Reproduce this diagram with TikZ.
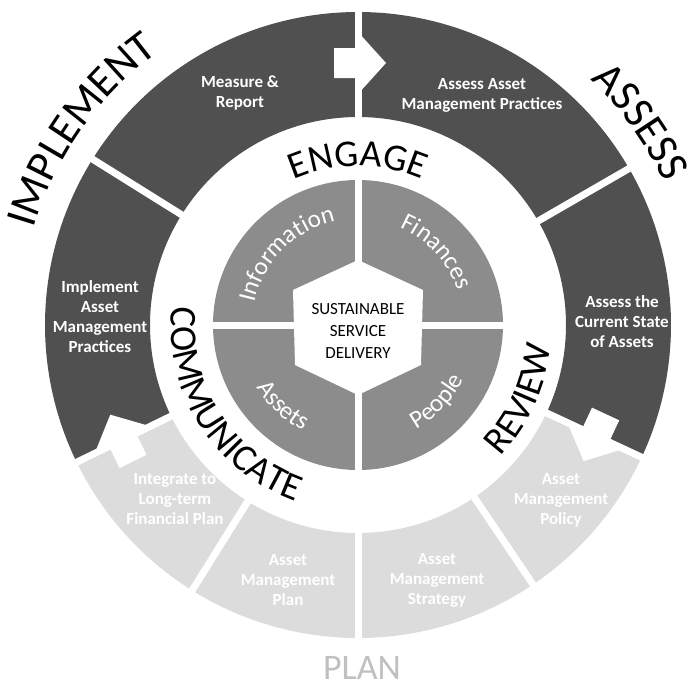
\documentclass[tikz,border=0pt]{standalone}
\usepackage{fontspec}
\setmainfont{Carlito}
\usetikzlibrary{decorations.text}

\definecolor{ringdark}{HTML}{505050}
\definecolor{ringlight}{HTML}{DCDCDC}
\definecolor{coregrey}{HTML}{8C8C8C}
\definecolor{plangrey}{HTML}{C0C0C0}

% one sector of the outer ring: start angle, end angle, fill colour
\newcommand\ringseg[3]{%
  \fill[#3] (#1:208) arc[start angle=#1,end angle=#2,radius=208]
    -- (#2:313) arc[start angle=#2,end angle=#1,radius=313] -- cycle;}
% white clockwise arrow sitting on the ring boundary at the given angle
\newcommand\cwarrow[1]{%
  \begin{scope}[shift={(#1:262)},rotate=#1-90]
    \fill[white] (-24,-15) -- (0,-15) -- (0,-31) -- (28,0) -- (0,31)
      -- (0,15) -- (-24,15) -- cycle;
  \end{scope}}
\newcommand\quadfont{\fontsize{25}{25}\selectfont}
\newcommand\stagefont{\fontsize{38}{38}\selectfont}
\newcommand\phasefont{\fontsize{44}{44}\selectfont}

\begin{document}
\begin{tikzpicture}[x=1pt,y=1pt,
  gap/.style={white,line width=7},
  seglabel/.style={text=white,font=\fontsize{17}{20}\selectfont\bfseries,align=center},
  hubtext/.style={text=black,font=\fontsize{17}{22}\selectfont,align=center},
  curved/.style={decorate,decoration={text along path,text align=center,text color=#1}},
  curved/.default=black]
\useasboundingbox (-358,-364) rectangle (332,325);

% core disk split into four quarters
\fill[coregrey] (0,0) circle[radius=145];
\draw[gap] (0,-147) -- (0,147);
\draw[gap] (-147,0) -- (147,0);
\fill[white] (0,65) -- (65,35) -- (63,-40) -- (0,-70) -- (-63,-40) -- (-65,35) -- cycle;
\node[hubtext] (hub) at (0,-6) {SUSTAINABLE\\SERVICE\\DELIVERY};

% outer ring sectors
\ringseg{90}{30}{ringdark}
\ringseg{30}{-25}{ringdark}
\ringseg{-25}{-56}{ringlight}
\ringseg{-56}{-90}{ringlight}
\ringseg{-90}{-122}{ringlight}
\ringseg{-122}{-154}{ringlight}
\ringseg{-154}{-212}{ringdark}
\ringseg{148}{90}{ringdark}
\foreach \a in {148,90,30,-25,-56,-90,-122,-154}
  \draw[gap] (\a:198) -- (\a:323);
\cwarrow{90}
\cwarrow{-25}
\cwarrow{-154}

% sector labels
\node[seglabel] (measure) at (-118,232) {Measure \&\\Report};
\node[seglabel] (assesspractices) at (124,230) {Assess Asset\\Management Practices};
\node[seglabel] (assessstate) at (264,3) {Assess the\\Current State\\of Assets};
\node[seglabel] (policy) at (203,-175) {Asset\\Management\\Policy};
\node[seglabel] (strategy) at (79,-255) {Asset\\Management\\Strategy};
\node[seglabel] (plan) at (-70,-255) {Asset\\Management\\Plan};
\node[seglabel] (integrate) at (-183,-174) {Integrate to\\Long-term\\Financial Plan};
\node[seglabel] (implement) at (-258,8) {Implement\\Asset\\Management\\Practices};

% quarter labels of the core
\path[curved=white,decoration={text={|\quadfont|Information}}]
  (200:106) arc[start angle=200,end angle=70,radius=106];
\path[curved=white,decoration={text={|\quadfont|Finances}}]
  (110:106) arc[start angle=110,end angle=-24,radius=106];
\path[curved=white,decoration={text={|\quadfont|Assets}}]
  (-200:119) arc[start angle=-200,end angle=-66,radius=119];
\path[curved=white,decoration={text={|\quadfont|People}}]
  (-110:119) arc[start angle=-110,end angle=22,radius=119];

% stage words between core and ring
\path[curved,decoration={text={|\stagefont|ENGAGE}}]
  (160:159) arc[start angle=160,end angle=20,radius=159];
\path[curved,decoration={text={|\stagefont|COMMUNICATE}}]
  (130:187) arc[start angle=130,end angle=295,radius=187];
\path[curved,decoration={text={|\stagefont|REVIEW}}]
  (-90:194) arc[start angle=-90,end angle=41,radius=194];

% phase words outside the ring
\path[curved,decoration={text={|\phasefont|IMPLEMENT}}]
  (200:338) arc[start angle=200,end angle=89.6,radius=338];
\path[decorate,decoration={text along path,text align=left,text={|\phasefont|ASSESS}}]
  (46.5:338) arc[start angle=46.5,end angle=-20,radius=338];
\node[text=plangrey,font=\fontsize{36}{36}\selectfont,inner sep=0pt] (planword) at (4,-343) {PLAN};
\end{tikzpicture}
\end{document}
